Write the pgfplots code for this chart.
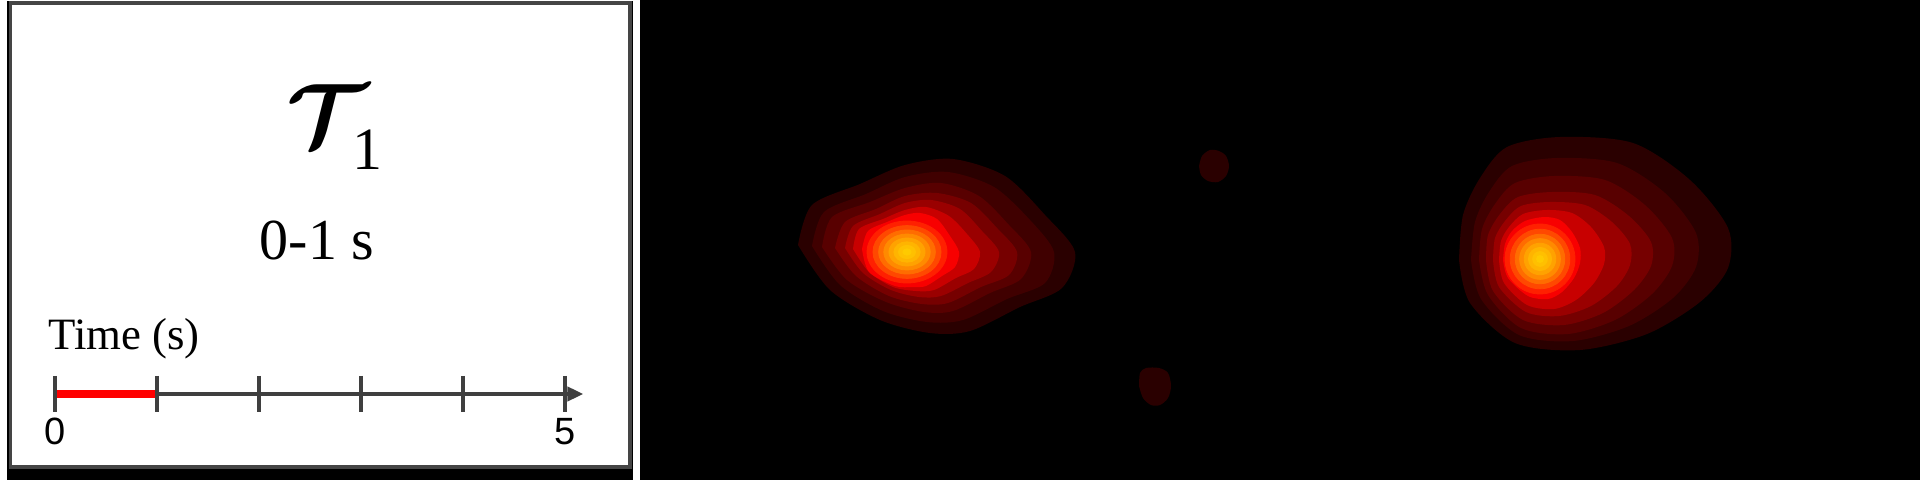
\documentclass[border=0pt]{standalone}
\usepackage{fix-cm}
\usepackage{pgfplots}
\pgfplotsset{compat=1.18}
\usetikzlibrary{arrows.meta}
\usepackage{fontspec}
\setmainfont{Liberation Serif}
\newfontfamily\sansf{Liberation Sans}
\DeclareRobustCommand{\calT}{{\fontsize{45}{50}\selectfont\boldmath$\mathcal{T}$}}
\definecolor{boxgray}{HTML}{454545}
\definecolor{tlgray}{HTML}{3F3F3F}
\definecolor{lA}{HTML}{2A0000}
\definecolor{lB}{HTML}{400000}
\definecolor{lC}{HTML}{580000}
\definecolor{lD}{HTML}{760000}
\definecolor{lE}{HTML}{9A0000}
\definecolor{lF}{HTML}{C80000}
\definecolor{lG}{HTML}{F80000}
\definecolor{cA}{HTML}{FF2000}
\definecolor{cB}{HTML}{FF4800}
\definecolor{cC}{HTML}{FF6C00}
\definecolor{cD}{HTML}{FF8A00}
\definecolor{cE}{HTML}{FFA200}
\definecolor{cF}{HTML}{FFB400}
\definecolor{cG}{HTML}{FFC000}
\definecolor{cH}{HTML}{FFCA00}
\begin{document}
\begin{tikzpicture}
\begin{axis}[at={(0,0)}, anchor=south west, scale only axis,
  width=960pt, height=240pt, xmin=0, xmax=1920, ymin=0, ymax=480,
  y dir=reverse, hide axis, clip=true]
% backgrounds
\addplot[fill=white, draw=none] coordinates {(0,0) (1920,0) (1920,480) (0,480)};
\addplot[fill=black, draw=none] coordinates {(640,0) (1920,0) (1920,480) (640,480)};
% left box
\addplot[fill=black, draw=none] coordinates {(7,1) (633,1) (633,480) (7,480)};
\addplot[fill=boxgray, draw=none] coordinates {(9,1) (632,1) (632,469) (9,469)};
\addplot[fill=white, draw=none] coordinates {(12,5) (628,5) (628,465) (12,465)};
% blob 1 (left)
\addplot[fill=lA, draw=none, smooth] coordinates {(798,245) (812,205) (860,184) (905,165) (953,159) (1005,176) (1045,215) (1075,252) (1062,288) (1020,307) (970,331) (930,333) (880,320) (830,290) (798,245)};
\addplot[fill=lB, draw=none, smooth] coordinates {(812,246) (824,212) (866,194) (905,177) (948,172) (994,187) (1030,220) (1054,252) (1045,283) (1007,299) (963,320) (927,322) (883,311) (840,285) (812,246)};
\addplot[fill=lC, draw=none, smooth] coordinates {(822,247) (832,217) (870,202) (905,188) (941,183) (979,196) (1009,225) (1031,252) (1021,279) (990,293) (953,311) (924,312) (886,302) (847,280) (822,247)};
\addplot[fill=lD, draw=none, smooth] coordinates {(835,248) (845,222) (876,209) (905,196) (937,193) (971,203) (997,228) (1017,252) (1009,275) (981,287) (948,303) (922,304) (889,296) (856,276) (835,248)};
\addplot[fill=lE, draw=none, smooth] coordinates {(845,248) (853,226) (880,214) (905,203) (931,200) (960,209) (982,231) (999,252) (991,272) (968,283) (941,296) (919,297) (891,290) (863,273) (845,248)};
\addplot[fill=lF, draw=none, smooth] coordinates {(853,249) (859,229) (883,219) (905,210) (926,207) (949,216) (967,234) (980,252) (974,269) (956,278) (934,290) (916,291) (893,287) (869,272) (853,249)};
\addplot[fill=lG, draw=none, smooth] coordinates {(862,249) (868,231) (887,222) (905,215) (920,213) (937,219) (950,236) (959,252) (955,267) (942,276) (926,286) (913,287) (895,286) (869,272) (862,249)};
\addplot[only marks, mark=*, color=cA, mark size=15.5pt, mark options={xscale=1.29}] coordinates {(907,252)};
\addplot[only marks, mark=*, color=cB, mark size=13.2pt, mark options={xscale=1.29}] coordinates {(907,252)};
\addplot[only marks, mark=*, color=cC, mark size=11pt, mark options={xscale=1.29}] coordinates {(907,252)};
\addplot[only marks, mark=*, color=cD, mark size=9pt, mark options={xscale=1.29}] coordinates {(907,252)};
\addplot[only marks, mark=*, color=cE, mark size=7pt, mark options={xscale=1.29}] coordinates {(907,252)};
\addplot[only marks, mark=*, color=cF, mark size=5.1pt, mark options={xscale=1.29}] coordinates {(907,252)};
\addplot[only marks, mark=*, color=cG, mark size=3.3pt, mark options={xscale=1.29}] coordinates {(907,252)};
\addplot[only marks, mark=*, color=cH, mark size=1.6pt, mark options={xscale=1.29}] coordinates {(907,252)};
% blob 2 (right)
\addplot[fill=lA, draw=none, smooth] coordinates {(1459,260) (1463,215) (1480,178) (1507,147) (1560,137) (1633,143) (1690,180) (1728,228) (1728,268) (1700,302) (1647,334) (1580,350) (1515,343) (1470,303) (1459,260)};
\addplot[fill=lB, draw=none, smooth] coordinates {(1471,260) (1475,222) (1489,192) (1512,166) (1557,158) (1617,163) (1665,193) (1696,233) (1696,267) (1673,298) (1629,326) (1573,341) (1519,335) (1481,299) (1471,260)};
\addplot[fill=lC, draw=none, smooth] coordinates {(1479,260) (1482,229) (1495,204) (1515,183) (1554,176) (1605,180) (1645,205) (1672,238) (1672,266) (1652,294) (1615,320) (1568,334) (1521,328) (1488,295) (1479,260)};
\addplot[fill=lD, draw=none, smooth] coordinates {(1486,260) (1488,235) (1500,214) (1518,197) (1552,192) (1595,195) (1629,216) (1651,242) (1651,266) (1634,290) (1603,313) (1564,325) (1523,320) (1493,291) (1486,260)};
\addplot[fill=lE, draw=none, smooth] coordinates {(1493,260) (1495,238) (1505,221) (1521,206) (1550,202) (1585,205) (1612,222) (1630,244) (1630,265) (1617,286) (1591,306) (1559,316) (1526,312) (1499,287) (1493,260)};
\addplot[fill=lF, draw=none, smooth] coordinates {(1499,260) (1501,241) (1509,227) (1523,214) (1547,210) (1572,213) (1591,227) (1604,247) (1604,264) (1594,283) (1576,300) (1554,309) (1527,305) (1504,283) (1499,260)};
\addplot[fill=lG, draw=none, smooth] coordinates {(1503,260) (1505,244) (1512,231) (1525,221) (1544,217) (1560,220) (1572,232) (1580,248) (1580,263) (1574,278) (1562,292) (1548,299) (1528,296) (1508,278) (1503,260)};
\addplot[only marks, mark=*, color=cA, mark size=17.5pt] coordinates {(1540,259)};
\addplot[only marks, mark=*, color=cB, mark size=14.9pt] coordinates {(1540,259)};
\addplot[only marks, mark=*, color=cC, mark size=12.4pt] coordinates {(1540,259)};
\addplot[only marks, mark=*, color=cD, mark size=10.2pt] coordinates {(1540,259)};
\addplot[only marks, mark=*, color=cE, mark size=7.9pt] coordinates {(1540,259)};
\addplot[only marks, mark=*, color=cF, mark size=5.8pt] coordinates {(1540,259)};
\addplot[only marks, mark=*, color=cG, mark size=3.7pt] coordinates {(1540,259)};
\addplot[only marks, mark=*, color=cH, mark size=1.75pt] coordinates {(1540,259)};
% small blobs
\addplot[fill=lA, draw=none, smooth] coordinates {(1199,166) (1202,156) (1210,150) (1219,151) (1226,156) (1229,166) (1226,176) (1218,182) (1208,181) (1201,175) (1199,166)};
\addplot[fill=lA, draw=none, smooth] coordinates {(1139,386) (1140,373) (1146,368) (1159,368) (1168,373) (1171,386) (1168,398) (1160,405) (1151,405) (1143,398) (1139,386)};
% texts in left panel
\node[anchor=base west, inner sep=0pt] at (axis cs:286,147) {\calT};
\node[anchor=base, inner sep=0pt] at (axis cs:367,170) {\fontsize{30}{32}\selectfont 1};
\node[anchor=base, inner sep=0pt] at (axis cs:317,260) {\fontsize{29}{32}\selectfont 0-1 s};
\node[anchor=base west, inner sep=0pt] at (axis cs:48,350) {\fontsize{22.4}{24}\selectfont Time (s)};
\end{axis}
% timeline axis (0 to 5 s)
\begin{axis}[at={(27.5pt,34pt)}, anchor=south west, scale only axis,
  width=255pt, height=18pt, xmin=0, xmax=5, ymin=-1, ymax=1,
  hide axis, clip=false]
\addplot[line width=2pt, color=tlgray, -{Triangle[length=8pt, width=7pt]}] coordinates {(0,0) (5.18,0)};
\addplot[line width=4pt, color=red] coordinates {(0,0) (1,0)};
\addplot[only marks, mark=|, mark size=9pt, mark options={line width=2pt, color=tlgray}] coordinates {(0,0) (1,0) (2,0) (3,0) (4,0) (5,0)};
\node[anchor=base, inner sep=0pt] at (axis cs:0,-2.83) {\sansf\fontsize{19}{20}\selectfont 0};
\node[anchor=base, inner sep=0pt] at (axis cs:5,-2.83) {\sansf\fontsize{19}{20}\selectfont 5};
\end{axis}
\end{tikzpicture}
\end{document}
